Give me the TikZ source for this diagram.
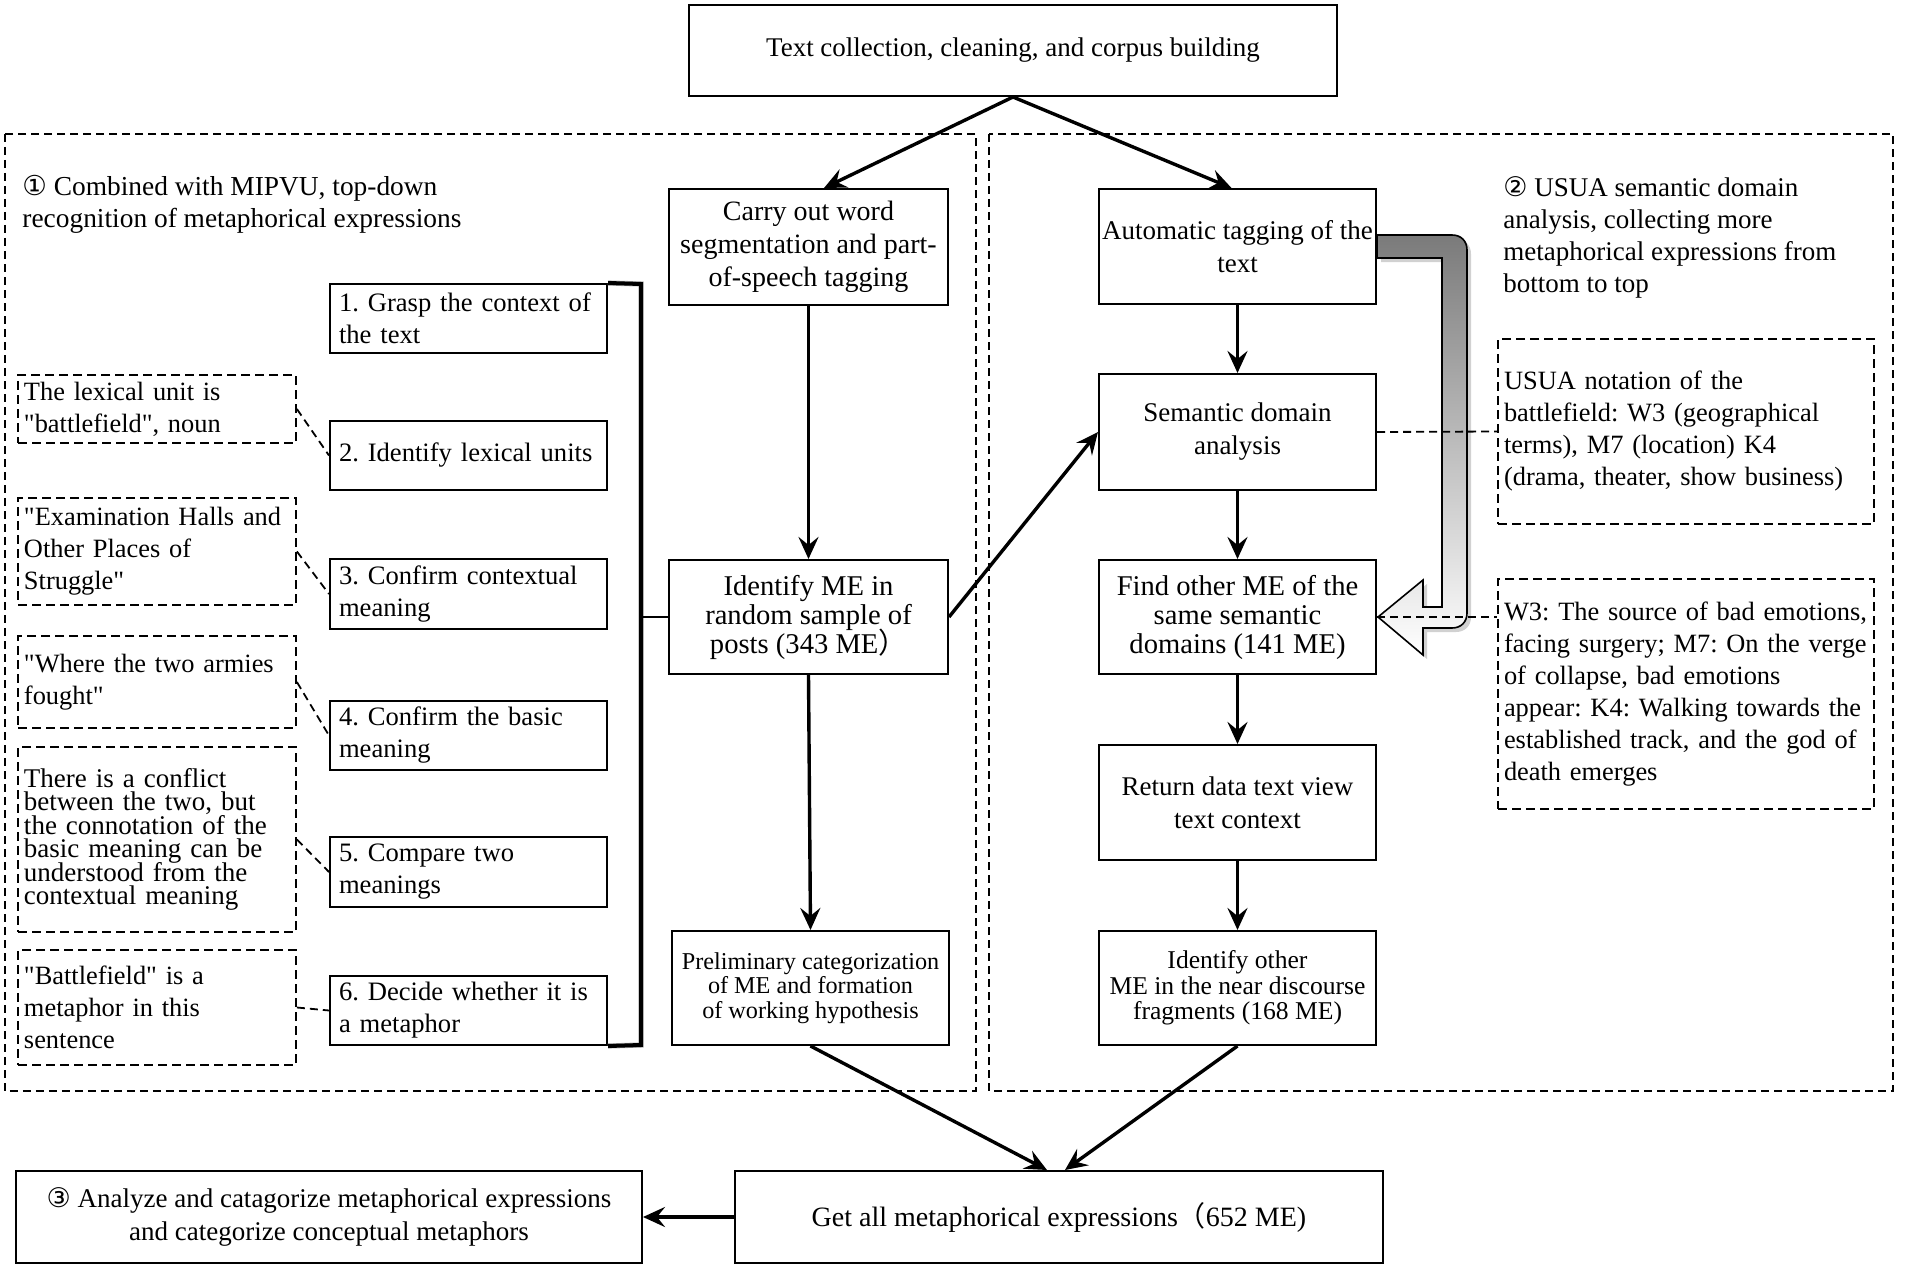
\documentclass[tikz,border=0pt]{standalone}
\usepackage{fontspec}
\setmainfont{Liberation Serif}
\newfontfamily\symf{DejaVu Sans}
\newfontfamily\cjk{Noto Sans CJK SC}
\usetikzlibrary{arrows.meta}
\newcommand{\fsz}[2]{\fontsize{#1}{#2}\selectfont\lineskiplimit=-20pt\frenchspacing\relax}
\newcommand{\q}{\textquotedbl{}}
\begin{document}
\begin{tikzpicture}[x=0.5pt,y=-0.5pt,
  box/.style={draw, line width=1pt, align=center, inner sep=0pt, font=\fsz{13.5}{16.5}},
  geo/.style={box, font=\fsz{14.3}{14.5}},
  stepbox/.style={draw, line width=1pt, align=left, inner xsep=4.5pt, inner ysep=0pt, text width=129.5pt, minimum width=138.5pt, font=\fsz{13.3}{16}},
  note/.style={draw, line width=0.9pt, dash pattern=on 4.5pt off 2.5pt, align=left, inner xsep=3pt, inner ysep=0pt, font=\fsz{13.2}{16}},
  region/.style={draw, line width=0.7pt, dash pattern=on 4pt off 2.5pt},
  arr/.style={line width=1.7pt, -{Stealth[length=11pt,width=10pt,inset=4pt]}},
  link/.style={line width=0.9pt, dash pattern=on 4pt off 2.5pt},
  header/.style={anchor=west, align=left, inner sep=0pt, font=\fsz{13.7}{15.7}},
]
\useasboundingbox (0,0) rectangle (1908,1268);

% dashed regions
\draw[region] (5,134) rectangle (976,1091);
\draw[region] (989,134) rectangle (1893,1091);

% headers
\node[header] (h1) at (22,204.5) {{\symf ①} Combined with MIPVU, top-down\\recognition of metaphorical expressions};
\node[header, font=\fsz{13.5}{16}] (h2) at (1503,237) {{\symf ②} USUA semantic domain\\analysis, collecting more\\metaphorical expressions from\\bottom to top};

% main boxes
\node[box, minimum width=324pt, minimum height=45.5pt] (top) at (1013,50.5) {Text collection, cleaning, and corpus building};
\node[box, font=\fsz{14}{16.5}, minimum width=139.5pt, minimum height=58pt] (carry) at (808.5,247) {Carry out word\\segmentation and part-\\of-speech tagging};
\node[box, minimum width=138.5pt, minimum height=57.5pt] (auto) at (1237.5,246.5) {Automatic tagging of the\\text};
\node[box, minimum width=138.5pt, minimum height=58pt] (sem) at (1237.5,432) {Semantic domain\\analysis};
\node[geo, minimum width=138.5pt, minimum height=57pt] (find) at (1237.5,617) {Find other ME of the\\same semantic\\domains (141 ME)};
\node[box, minimum width=138.5pt, minimum height=57.5pt] (ret) at (1237.5,802.5) {Return data text view\\text context};
\node[geo, font=\fsz{12.8}{12.8}, minimum width=138.5pt, minimum height=57pt] (idoth) at (1237.5,988) {Identify other\\ME in the near discourse\\fragments (168 ME)};
\node[geo, minimum width=139.5pt, minimum height=57pt] (idme) at (808.5,617) {Identify ME in\\random sample of\\posts (343 ME{\cjk ）}};
\node[geo, font=\fsz{12.1}{12.2}, minimum width=138.5pt, minimum height=57pt] (prel) at (810.5,988) {Preliminary categorization\\of ME and formation\\of working hypothesis};
\node[geo, font=\fsz{14}{16}, minimum width=324pt, minimum height=46pt] (getall) at (1059,1217) {Get all metaphorical expressions{\cjk （}652 ME)};
\node[box, minimum width=313pt, minimum height=46pt] (analyze) at (329,1217) {{\symf ③} Analyze and catagorize metaphorical expressions\\and categorize conceptual metaphors};

% steps
\node[stepbox, minimum height=34.5pt] (s1) at (468.5,318.5) {1. Grasp the context of\\the text};
\node[stepbox, minimum height=34.5pt] (s2) at (468.5,455.5) {2. Identify lexical units};
\node[stepbox, minimum height=35pt] (s3) at (468.5,594) {3. Confirm contextual\\meaning};
\node[stepbox, minimum height=34.5pt] (s4) at (468.5,735.5) {4. Confirm the basic\\meaning};
\node[stepbox, minimum height=35pt] (s5) at (468.5,872) {5. Compare two\\meanings};
\node[stepbox, minimum height=34.5pt] (s6) at (468.5,1010.5) {6. Decide whether it is\\a metaphor};

% left notes
\node[note, text width=133pt, minimum height=34pt] (na) at (157,409) {The lexical unit is\\\q battlefield\q, noun};
\node[note, text width=133pt, minimum height=53.5pt] (nb) at (157,551.5) {\q Examination Halls and\\Other Places of\\Struggle\q};
\node[note, text width=133pt, minimum height=46pt] (nc) at (157,682) {\q Where the two armies\\fought\q};
\node[note, text width=133pt, minimum height=92.5pt, font=\fsz{13.5}{11.7}] (nd) at (157,839.5) {There is a conflict\\between the two, but\\the connotation of the\\basic meaning can be\\understood from the\\contextual meaning};
\node[note, text width=133pt, minimum height=57.5pt] (ne) at (157,1007.5) {\q Battlefield\q{} is a\\metaphor in this\\sentence};

% right notes
\node[note, text width=182pt, minimum height=92.5pt] (nusua) at (1686,431.5) {USUA notation of the\\battlefield: W3 (geographical\\terms), M7 (location) K4\\(drama, theater, show business)};
\node[note, text width=182pt, minimum height=115pt] (nw3) at (1686,694) {W3: The source of bad emotions,\\facing surgery; M7: On the verge\\of collapse, bad emotions\\appear: K4: Walking towards the\\established track, and the god of\\death emerges};

% bracket
\coordinate (brt) at (641,284);
\coordinate (brb) at (641,1045);
\coordinate (brm) at (641,617);
\draw[black!30, line width=2.6pt, line join=miter, shift={(1.5,1.5)}] (s1.north east) -- (brt) -- (brb) -- (s6.south east);
\draw[line width=2pt, line join=miter] (s1.north east) -- (brt) -- (brb) -- (s6.south east);
\draw[line width=1.4pt] (brm) -- (idme.west);

% big grey U arrow
\fill[black!18] (1381,239) -- (1456,239) .. controls (1465,239) and (1471,245) .. (1471,254) -- (1471,617) .. controls (1471,626) and (1465,632) .. (1456,632) -- (1427,632) -- (1427,659) -- (1382,621) -- (1427,584) -- (1427,611) -- (1446,611) -- (1446,262) -- (1381,262) -- cycle;
\path[draw=black, line width=0.8pt, line join=miter, top color=black!52, bottom color=white]
  (1377,235) -- (1452,235) .. controls (1461,235) and (1467,241) .. (1467,250)
  -- (1467,613) .. controls (1467,622) and (1461,628) .. (1452,628)
  -- (1423,628) -- (1423,655) -- (1378,617) -- (1423,580) -- (1423,607)
  -- (1442,607) -- (1442,258) -- (1377,258) -- cycle;

% arrows
\draw[arr] (top.south) -- ([xshift=7.75pt]carry.north);
\draw[arr] (top.south) -- ([xshift=-3pt]auto.north);
\draw[arr] (carry.south) -- (idme.north);
\draw[arr] (idme.south) -- (prel.north);
\draw[arr] (idme.east) -- (sem.west);
\draw[arr] (auto.south) -- (sem.north);
\draw[arr] (sem.south) -- (find.north);
\draw[arr] (find.south) -- (ret.north);
\draw[arr] (ret.south) -- (idoth.north);
\draw[arr] (prel.south) -- ([xshift=-6pt]getall.north);
\draw[arr] (idoth.south) -- ([xshift=3pt]getall.north);
\draw[arr, line width=2.2pt] (getall.west) -- (analyze.east);

% dashed links
\draw[link] (na.east) -- (s2.west);
\draw[link] (nb.east) -- (s3.west);
\draw[link] (nc.east) -- (s4.west);
\draw[link] (nd.east) -- (s5.west);
\draw[link] (ne.east) -- (s6.west);
\draw[link] (sem.east) -- (nusua.west);
\draw[link] (find.east) -- (find.east -| nw3.west);
\end{tikzpicture}
\end{document}
